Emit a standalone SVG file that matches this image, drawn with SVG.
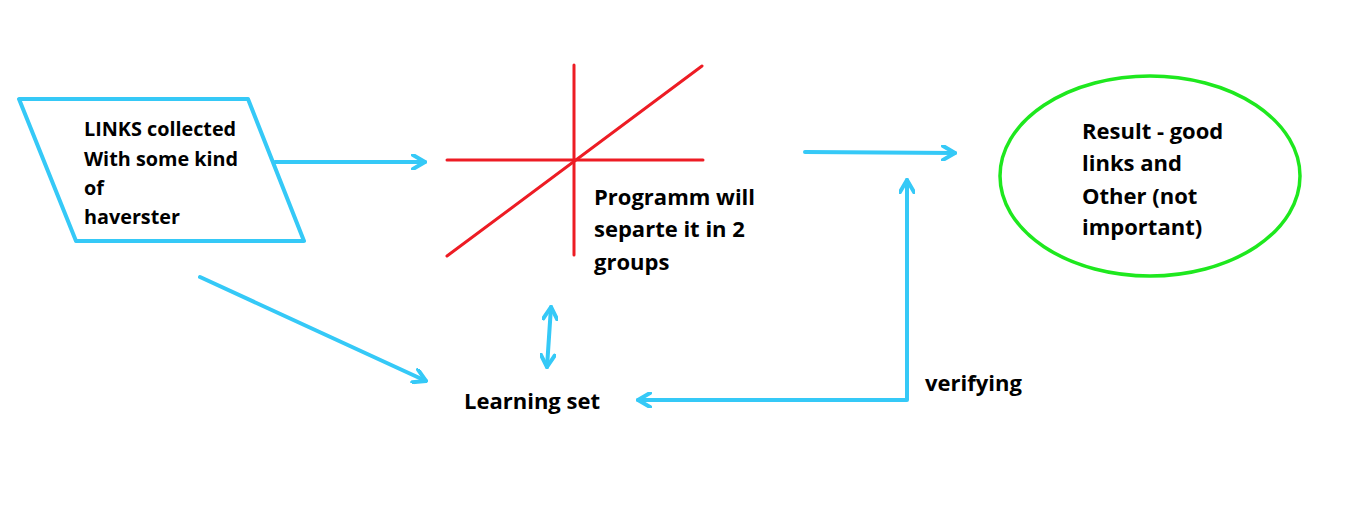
<svg xmlns="http://www.w3.org/2000/svg" width="1370" height="506" viewBox="0 0 1370 506">
<style>
.lbl{font-family:"Open Sans",Lato,sans-serif;font-weight:bold;fill:#000}
.s{font-size:19.8px}
.m{font-size:22px}
.blue{fill:none;stroke:#35c9f7;stroke-width:4;stroke-linecap:round;stroke-linejoin:round}
.red{fill:none;stroke:#ed1c24;stroke-width:3;stroke-linecap:round}
</style>
<defs>
<marker id="ah" viewBox="-14 -8 16 16" markerWidth="16" markerHeight="16" refX="0" refY="0" orient="auto-start-reverse" markerUnits="userSpaceOnUse">
<path d="M-12,-7 L0,0 L-12,7" fill="none" stroke="#35c9f7" stroke-width="4" stroke-linecap="round" stroke-linejoin="round"/>
</marker>
</defs>
<rect width="1370" height="506" fill="#fff"/>
<g id="links">
<polygon class="blue" points="19,99 248,99 304,241 76,241"/>
<text class="lbl s" x="84"><tspan x="84" y="136">LINKS collected</tspan><tspan x="84" y="166">With some kind</tspan><tspan x="84" y="195">of</tspan><tspan x="84" y="224">haverster</tspan></text>
</g>
<g id="program">
<line class="red" x1="574" y1="65" x2="574" y2="255"/>
<line class="red" x1="447" y1="160" x2="703" y2="160"/>
<line class="red" x1="447" y1="256" x2="702" y2="66"/>
<text class="lbl m"><tspan x="594" y="205">Programm will</tspan><tspan x="594" y="237">separte it in 2</tspan><tspan x="594" y="270">groups</tspan></text>
</g>
<g id="result">
<ellipse cx="1150" cy="176" rx="150" ry="100" fill="none" stroke="#1ee81e" stroke-width="3.5"/>
<text class="lbl m"><tspan x="1082" y="139">Result - good</tspan><tspan x="1082" y="171">links and</tspan><tspan x="1082" y="204">Other (not</tspan><tspan x="1082" y="235">important)</tspan></text>
</g>
<g id="learning">
<text class="lbl m" x="464" y="409">Learning set</text>
</g>
<g id="verifying">
<text class="lbl m" x="925" y="391">verifying</text>
</g>
<g id="connectors">
<path class="blue" d="M275,162 L425,162" marker-end="url(#ah)"/>
<path class="blue" d="M805,152 L955,153" marker-end="url(#ah)"/>
<path class="blue" d="M200,277 L426,381" marker-end="url(#ah)"/>
<path class="blue" d="M551,307 L547,367" marker-start="url(#ah)" marker-end="url(#ah)"/>
<path class="blue" d="M638,400 L907,400 L907,180" marker-start="url(#ah)" marker-end="url(#ah)"/>
</g>
</svg>
